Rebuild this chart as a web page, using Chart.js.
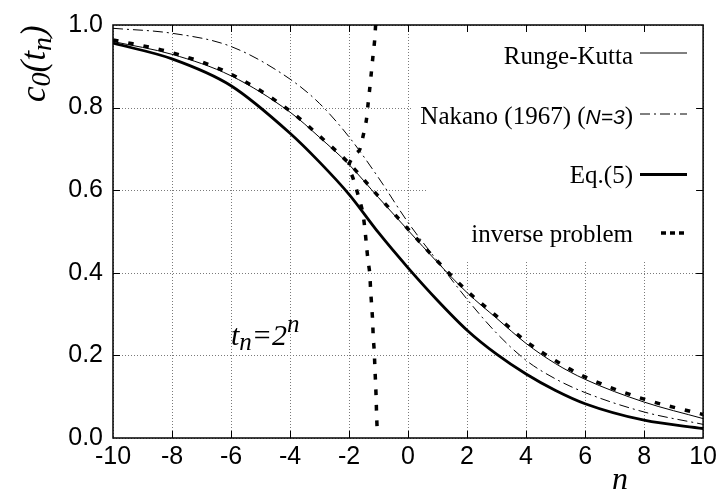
<!DOCTYPE html>
<html>
<head>
<meta charset="utf-8">
<script src="https://cdn.jsdelivr.net/npm/chart.js@4.4.1/dist/chart.umd.min.js"></script>
<style>
  html, body { margin: 0; padding: 0; background: #fff; }
  #wrap { width: 721px; height: 500px; position: relative; }
</style>
</head>
<body>
<div id="wrap"><canvas id="c0Chart"></canvas></div>
<script>
/* ---------- DATA ---------- */
const xTicks = [-10, -8, -6, -4, -2, 0, 2, 4, 6, 8, 10];
const yTicks = [0, 0.2, 0.4, 0.6, 0.8, 1.0];

// sample points n (t_n = 2^n)
const nPoints = [-10, -8, -6, -4, -3, -2, -1, 0, 1, 2, 3, 4, 5, 6, 8, 10];

const rungeKutta = [0.960, 0.929, 0.877, 0.789, 0.728, 0.662, 0.582, 0.503, 0.425, 0.352, 0.290, 0.229, 0.180, 0.142, 0.087, 0.047];
const nakano     = [0.992, 0.980, 0.948, 0.869, 0.810, 0.729, 0.630, 0.522, 0.428, 0.336, 0.254, 0.188, 0.143, 0.110, 0.063, 0.033];
const eq5        = [0.956, 0.918, 0.853, 0.738, 0.668, 0.590, 0.497, 0.412, 0.333, 0.261, 0.203, 0.155, 0.115, 0.083, 0.043, 0.023];
const inverse    = [0.964, 0.933, 0.881, 0.792, 0.731, 0.665, 0.585, 0.506, 0.428, 0.356, 0.295, 0.234, 0.187, 0.148, 0.094, 0.057];

// extra branch of the inverse problem solution near n = -1.5
const loopN = [-1.10, -1.13, -1.19, -1.245, -1.30, -1.36, -1.415, -1.53, -1.64, -1.82, -1.97, -2.00, -1.86, -1.70, -1.55, -1.47, -1.415, -1.36, -1.30, -1.27, -1.235, -1.20, -1.18, -1.144, -1.124, -1.10, -1.08, -1.066, -1.04];
const loopC = [1.000, 0.964, 0.924, 0.884, 0.845, 0.805, 0.769, 0.729, 0.698, 0.685, 0.668, 0.655, 0.628, 0.590, 0.551, 0.511, 0.471, 0.432, 0.400, 0.360, 0.322, 0.284, 0.245, 0.208, 0.170, 0.132, 0.094, 0.056, 0.010];

/* ---------- HELPERS ---------- */
const pts = (xs, ys) => xs.map((x, i) => ({ x, y: ys[i] }));
const SERIF = '"Liberation Serif", "Times New Roman", serif';
const SANS = '"Liberation Sans", Arial, sans-serif';

// draw a run of [text, font, dy] pieces, returns end x
function drawRich(ctx, x, y, parts) {
    parts.forEach(([txt, font, dy]) => {
        ctx.font = font;
        ctx.fillText(txt, x, y + (dy || 0));
        x += ctx.measureText(txt).width;
    });
    return x;
}
function richWidth(ctx, parts) {
    let w = 0;
    parts.forEach(([txt, font]) => { ctx.font = font; w += ctx.measureText(txt).width; });
    return w;
}

/* ---------- DECORATION PLUGIN ---------- */
const decor = {
    id: 'decor',
    beforeDatasetsDraw(chart) {
        const { ctx, chartArea: a, scales: { x, y } } = chart;
        ctx.save();
        ctx.strokeStyle = '#7a7a7a';
        ctx.lineWidth = 1;
        ctx.setLineDash([1, 2]);
        ctx.beginPath();
        xTicks.forEach(v => {
            const px = Math.round(x.getPixelForValue(v)) + 0.5;
            ctx.moveTo(px, a.top); ctx.lineTo(px, a.bottom);
        });
        yTicks.forEach(v => {
            const py = Math.round(y.getPixelForValue(v)) + 0.5;
            ctx.moveTo(a.left, py); ctx.lineTo(a.right, py);
        });
        ctx.stroke();
        ctx.restore();

        // opaque key area
        ctx.save();
        ctx.fillStyle = '#fff';
        ctx.fillRect(412, a.top + 1, a.right - 413, 132);
        ctx.fillRect(428, a.top + 132, a.right - 429, 105);
        ctx.restore();
    },
    afterDatasetsDraw(chart) {
        const { ctx, chartArea: a, scales: { x, y } } = chart;
        ctx.save();

        // frame
        ctx.strokeStyle = '#000';
        ctx.lineWidth = 1.5;
        ctx.setLineDash([]);
        ctx.strokeRect(a.left, a.top, a.right - a.left, a.bottom - a.top);

        // inward ticks on all sides
        ctx.lineWidth = 1;
        ctx.beginPath();
        const tl = 7;
        xTicks.slice(1, -1).forEach(v => {
            const px = Math.round(x.getPixelForValue(v)) + 0.5;
            ctx.moveTo(px, a.top); ctx.lineTo(px, a.top + tl);
            ctx.moveTo(px, a.bottom); ctx.lineTo(px, a.bottom - tl);
        });
        yTicks.slice(1, -1).forEach(v => {
            const py = Math.round(y.getPixelForValue(v)) + 0.5;
            ctx.moveTo(a.left, py); ctx.lineTo(a.left + tl, py);
            ctx.moveTo(a.right, py); ctx.lineTo(a.right - tl, py);
        });
        ctx.stroke();

        // key
        ctx.fillStyle = '#000';
        ctx.textBaseline = 'alphabetic';
        const textRight = 633, s0 = 640, s1 = 687;
        const keyFont = '25px ' + SERIF;
        const keys = [
            { parts: [['Runge-Kutta', keyFont]], base: 64, ly: 53, width: 1, dash: [] , from: s0 },
            { parts: [['Nakano (1967) (', keyFont], ['N=3', 'italic 21px ' + SANS], [')', keyFont]], base: 124, ly: 114, width: 1, dash: [10, 4, 2, 4], from: s0 },
            { parts: [['Eq.(5)', keyFont]], base: 183, ly: 174.5, width: 2.8, dash: [], from: s0 },
            { parts: [['inverse problem', keyFont]], base: 242, ly: 233, width: 3.5, dash: [5, 4], from: 661 }
        ];
        keys.forEach(k => {
            const w = richWidth(ctx, k.parts);
            drawRich(ctx, textRight - w, k.base, k.parts);
            ctx.beginPath();
            ctx.lineWidth = k.width;
            ctx.setLineDash(k.dash);
            ctx.moveTo(k.from, k.ly);
            ctx.lineTo(k.from === s0 ? s1 : 684, k.ly);
            ctx.stroke();
        });
        ctx.setLineDash([]);

        // annotation t_n = 2^n
        const it30 = 'italic 30px ' + SERIF, it25 = 'italic 25px ' + SERIF;
        drawRich(ctx, 231, 345, [['t', it30], ['n', it25, 5], ['=2', it30], ['n', it25, -13]]);

        // axis titles
        ctx.save();
        ctx.translate(45, 102);
        ctx.rotate(-Math.PI / 2);
        const it34 = 'italic 35px ' + SERIF, it28 = 'italic 28px ' + SERIF;
        drawRich(ctx, 0, 0, [['c', it34], ['0', it28, 5], ['(', it34], ['t', it34], ['n', it28, 6], [')', it34]]);
        ctx.restore();

        ctx.font = 'italic 32px ' + SERIF;
        ctx.textAlign = 'center';
        ctx.fillText('n', 620, 489);
        ctx.restore();
    }
};

/* ---------- CHART ---------- */
const lineBase = { pointRadius: 0, fill: false, borderColor: '#000', cubicInterpolationMode: 'monotone' };

new Chart(document.getElementById('c0Chart').getContext('2d'), {
    type: 'line',
    data: {
        datasets: [
            { label: 'inverse problem', data: pts(nPoints, inverse), borderWidth: 3.5, borderDash: [5.5, 10], ...lineBase },
            { label: 'inverse problem (branch)', data: pts(loopN, loopC), borderWidth: 3.5, borderDash: [5.5, 10], pointRadius: 0, borderColor: '#000', tension: 0.3 },
            { label: 'Runge-Kutta', data: pts(nPoints, rungeKutta), borderWidth: 1, ...lineBase },
            { label: 'Nakano (1967) (N=3)', data: pts(nPoints, nakano), borderWidth: 1, borderDash: [10, 4, 2, 4], ...lineBase },
            { label: 'Eq.(5)', data: pts(nPoints, eq5), borderWidth: 2.8, ...lineBase }
        ]
    },
    options: {
        responsive: true,
        maintainAspectRatio: false,
        animation: false,
        layout: { padding: { left: 0, right: 16, top: 18, bottom: 0 } },
        plugins: { legend: { display: false }, tooltip: { enabled: false } },
        scales: {
            x: {
                type: 'linear', min: -10, max: 10,
                afterFit: s => { s.height = 62; },
                afterBuildTicks: s => { s.ticks = xTicks.map(v => ({ value: v })); },
                grid: { display: false, drawTicks: false },
                border: { display: false },
                ticks: { color: '#000', padding: 4, maxRotation: 0, font: { family: SANS, size: 25 } }
            },
            y: {
                type: 'linear', min: 0, max: 1,
                afterFit: s => { s.width = 113; },
                afterBuildTicks: s => { s.ticks = yTicks.map(v => ({ value: v })); },
                grid: { display: false, drawTicks: false },
                border: { display: false },
                ticks: { color: '#000', padding: 10, callback: v => v.toFixed(1), font: { family: SANS, size: 25 } }
            }
        }
    },
    plugins: [decor]
});
</script>
</body>
</html>
